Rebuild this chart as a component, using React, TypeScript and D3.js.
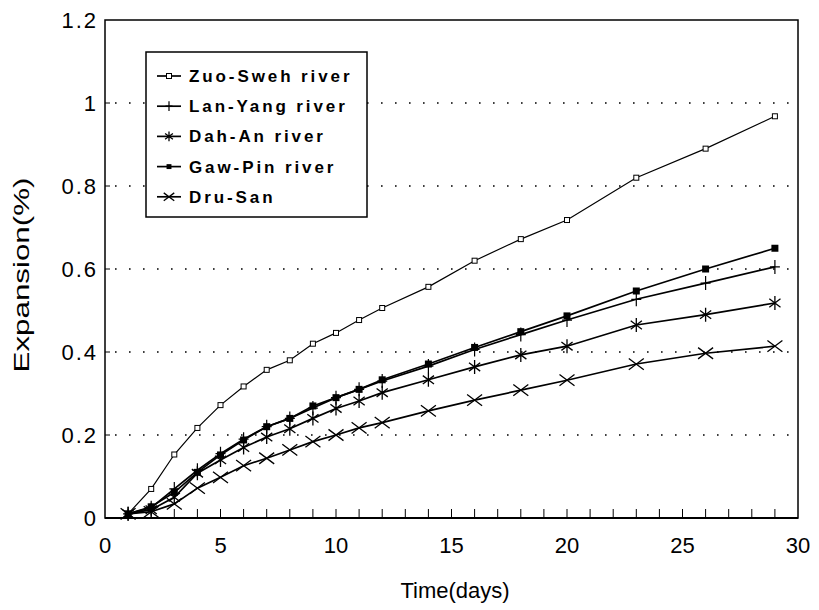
import React from "react";
import * as d3 from "d3";

// days measured
const days = [1, 2, 3, 4, 5, 6, 7, 8, 9, 10, 11, 12, 14, 16, 18, 20, 23, 26, 29];

const zuoSweh = [0.01, 0.07, 0.153, 0.217, 0.272, 0.317, 0.357, 0.38, 0.42, 0.446, 0.477, 0.506, 0.557, 0.62, 0.672, 0.718, 0.82, 0.89, 0.968];
const lanYang = [0.01, 0.025, 0.07, 0.115, 0.155, 0.19, 0.22, 0.24, 0.265, 0.29, 0.31, 0.33, 0.366, 0.406, 0.442, 0.477, 0.527, 0.566, 0.605];
const dahAn = [0.01, 0.02, 0.05, 0.108, 0.14, 0.17, 0.195, 0.215, 0.24, 0.264, 0.282, 0.302, 0.333, 0.364, 0.393, 0.414, 0.465, 0.49, 0.518];
const gawPin = [0.01, 0.027, 0.062, 0.11, 0.152, 0.188, 0.22, 0.24, 0.27, 0.29, 0.31, 0.333, 0.371, 0.411, 0.449, 0.487, 0.547, 0.6, 0.65];
const druSan = [0.01, 0.015, 0.034, 0.072, 0.098, 0.126, 0.144, 0.164, 0.184, 0.2, 0.217, 0.23, 0.258, 0.284, 0.308, 0.332, 0.371, 0.397, 0.414];

const seriesNames = ["Zuo-Sweh river", "Lan-Yang river", "Dah-An river", "Gaw-Pin river", "Dru-San"];
const seriesValues = [zuoSweh, lanYang, dahAn, gawPin, druSan];
const markerKinds = ["openSquare", "plus", "asterisk", "filledSquare", "cross"];

const xTicks = [0, 5, 10, 15, 20, 25, 30];
const yTicks = [0, 0.2, 0.4, 0.6, 0.8, 1, 1.2];
const gridLines = [0.2, 0.4, 0.6, 0.8, 1];

const W = 819;
const H = 610;
const left = 105;
const right = 798;
const top = 20;
const bottom = 518;

const Marker = ({ kind, x, y, s = 1 }: { kind: string; x: number; y: number; s?: number }) => {
  if (kind === "openSquare")
    return <rect x={x - 2.5} y={y - 2.5} width={5} height={5} fill="#fff" stroke="#000" strokeWidth={1} />;
  if (kind === "filledSquare")
    return <rect x={x - 3.5 * s} y={y - 3.5 * s} width={7 * s} height={7 * s} fill="#000" />;
  if (kind === "plus")
    return (
      <path d={`M${x},${y - 7 * s}V${y + 7 * s}M${x - 5 * s},${y}H${x + 5 * s}`} stroke="#000" strokeWidth={1.2} />
    );
  if (kind === "asterisk") {
    const r = 7 * s;
    return (
      <path
        d={`M${x},${y - r}V${y + r}M${x - r * 0.8},${y - r * 0.6}L${x + r * 0.8},${y + r * 0.6}M${x - r * 0.8},${y + r * 0.6}L${x + r * 0.8},${y - r * 0.6}`}
        stroke="#000"
        strokeWidth={1.3}
      />
    );
  }
  const r = 7.5 * s;
  return (
    <path
      d={`M${x - r},${y - r * 0.75}L${x + r},${y + r * 0.75}M${x - r},${y + r * 0.75}L${x + r},${y - r * 0.75}`}
      stroke="#000"
      strokeWidth={1.3}
    />
  );
};

export default function App() {
  const x = d3.scaleLinear().domain([0, 30]).range([left, right]);
  const y = d3.scaleLinear().domain([0, 1.2]).range([bottom, top]);
  const line = d3
    .line<number>()
    .x((_, i) => x(days[i]))
    .y((d) => y(d));

  const minorTicks = d3.range(1, 30);

  // legend geometry
  const lx = 146;
  const ly = 52;
  const lw = 221;
  const lh = 165;
  const rowY = (i: number) => 76 + i * 30.2;

  return (
    <svg
      width={W}
      height={H}
      style={{ position: "absolute", left: 0, top: 0, background: "#fff" }}
      fontFamily="Liberation Sans, Arial, sans-serif"
    >
      {/* dotted grid */}
      {gridLines.map((g) => (
        <line
          key={g}
          x1={left + 10}
          x2={right}
          y1={y(g)}
          y2={y(g)}
          stroke="#000"
          strokeWidth={1.6}
          strokeDasharray="1.6,12.4"
        />
      ))}

      {/* axes frame */}
      <rect x={left} y={top} width={right - left} height={bottom - top} fill="none" stroke="#000" strokeWidth={1.5} />
      <line x1={left} x2={right} y1={bottom} y2={bottom} stroke="#000" strokeWidth={2.2} />

      {minorTicks.map((t) => (
        <line key={t} x1={x(t)} x2={x(t)} y1={bottom} y2={bottom - 9} stroke="#000" strokeWidth={1} />
      ))}
      {yTicks.slice(1, -1).map((t) => (
        <line key={t} x1={left} x2={left + 5} y1={y(t)} y2={y(t)} stroke="#000" strokeWidth={1} />
      ))}

      {/* tick labels */}
      {xTicks.map((t) => (
        <text key={t} x={x(t)} y={bottom + 35} textAnchor="middle" fontSize={22}>
          {t}
        </text>
      ))}
      {yTicks.map((t) => (
        <text key={t} x={98} y={y(t) + 8} textAnchor="end" fontSize={22} letterSpacing={2}>
          {t}
        </text>
      ))}

      <text x={455} y={598} textAnchor="middle" fontSize={22}>
        Time(days)
      </text>
      <text
        transform="translate(29,275) rotate(-90)"
        textAnchor="middle"
        fontSize={22}
        textLength={195}
        lengthAdjust="spacingAndGlyphs"
      >
        Expansion(%)
      </text>

      {/* series */}
      {seriesValues.map((vals, si) => (
        <g key={si}>
          <path d={line(vals) || ""} fill="none" stroke="#000" strokeWidth={si === 0 ? 1.2 : 1.7} />
          {vals.map((v, i) => (
            <Marker key={i} kind={markerKinds[si]} x={x(days[i])} y={y(v)} />
          ))}
        </g>
      ))}

      {/* legend */}
      <rect x={lx} y={ly} width={lw} height={lh} fill="#fff" stroke="#000" strokeWidth={1.5} />
      {seriesNames.map((name, i) => (
        <g key={name}>
          <line x1={157} x2={181} y1={rowY(i)} y2={rowY(i)} stroke="#000" strokeWidth={1.7} />
          <Marker kind={markerKinds[i]} x={169} y={rowY(i)} s={0.7} />
          <text x={189} y={rowY(i) + 6} fontSize={17} fontWeight="bold" letterSpacing={2.9}>
            {name}
          </text>
        </g>
      ))}
    </svg>
  );
}
